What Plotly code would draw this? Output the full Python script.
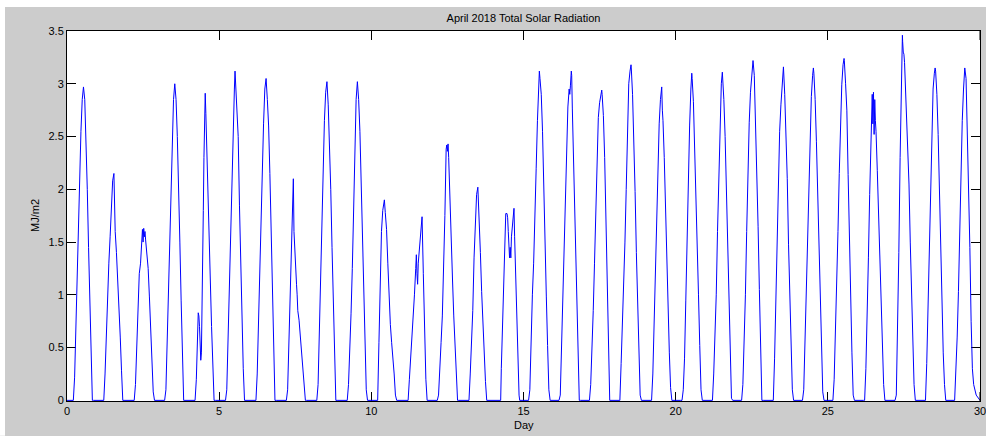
import plotly.graph_objects as go

# ---------------- data ----------------
DAYS = list(range(30))
HOURS = list(range(4, 22))  # hourly samples 4:00 .. 21:00 for every day

# MJ/m2 at each hour of HOURS, one row per day (0..29)
RAD = [
    [0, 0, 0.22, 0.70, 1.20, 1.75, 2.20, 2.55, 2.85, 2.97, 2.85, 2.50, 2.00, 1.45, 0.95, 0.45, 0, 0],
    [0, 0, 0.25, 0.65, 1.05, 1.30, 1.55, 1.90, 2.08, 2.15, 1.60, 1.40, 1.15, 0.93, 0.60, 0.28, 0, 0],
    [0, 0, 0.15, 0.50, 0.83, 1.20, 1.30, 1.55, 1.50, 1.55, 1.52, 1.40, 1.25, 0.98, 0.65, 0.35, 0.08, 0],
    [0, 0, 0.10, 0.60, 1.05, 1.60, 2.05, 2.47, 2.85, 3.00, 2.85, 2.50, 2.10, 1.50, 0.95, 0.40, 0, 0],
    [0, 0, 0.20, 0.60, 0.80, 0.55, 0.45, 1.30, 2.30, 2.91, 2.45, 2.00, 1.60, 1.15, 0.70, 0.25, 0, 0],
    [0, 0, 0.10, 0.60, 1.10, 1.70, 2.20, 2.60, 2.95, 3.00, 2.86, 2.50, 1.85, 1.28, 0.75, 0.30, 0, 0],
    [0, 0, 0.25, 0.75, 1.30, 1.80, 2.25, 2.62, 2.95, 3.05, 2.85, 2.60, 2.15, 1.60, 0.95, 0.50, 0, 0],
    [0, 0, 0.10, 0.55, 1.15, 1.60, 2.00, 1.60, 1.25, 1.10, 0.85, 0.76, 0.60, 0.42, 0.25, 0.08, 0, 0],
    [0, 0, 0.15, 0.62, 1.10, 1.75, 2.30, 2.65, 2.92, 3.02, 2.80, 2.48, 2.00, 1.45, 0.92, 0.45, 0, 0],
    [0, 0, 0.15, 0.45, 0.82, 1.25, 1.78, 2.45, 2.85, 3.02, 2.85, 2.55, 2.05, 1.50, 1.00, 0.50, 0.10, 0],
    [0, 0, 0.55, 1.05, 1.60, 1.80, 1.88, 1.78, 1.62, 1.30, 0.95, 0.72, 0.55, 0.42, 0.25, 0.05, 0, 0],
    [0, 0, 0.20, 0.38, 0.55, 0.75, 1.00, 1.25, 1.20, 1.30, 1.45, 1.60, 1.74, 1.20, 0.60, 0.20, 0, 0],
    [0, 0.05, 0.25, 0.55, 0.80, 1.20, 1.75, 2.38, 2.36, 2.30, 1.85, 1.50, 1.15, 0.80, 0.50, 0.22, 0, 0],
    [0, 0, 0.25, 0.52, 0.85, 1.35, 1.75, 1.95, 2.02, 1.75, 1.40, 1.03, 0.72, 0.42, 0.18, 0, 0, 0],
    [0, 0, 0, 0.50, 0.90, 1.40, 1.77, 1.77, 1.60, 1.35, 1.35, 1.62, 1.70, 1.55, 1.05, 0.60, 0.20, 0],
    [0, 0.10, 0.60, 1.00, 1.30, 1.65, 2.20, 2.65, 3.05, 3.05, 2.90, 2.55, 1.95, 1.42, 0.98, 0.52, 0.10, 0],
    [0, 0.05, 0.50, 1.00, 1.50, 2.00, 2.45, 2.78, 2.95, 2.98, 3.08, 2.50, 1.90, 1.35, 0.88, 0.40, 0, 0],
    [0, 0.15, 0.45, 0.85, 1.30, 1.80, 2.30, 2.68, 2.82, 2.90, 2.90, 2.70, 2.30, 1.75, 1.10, 0.50, 0, 0],
    [0, 0.35, 0.70, 1.00, 1.50, 2.00, 2.55, 3.00, 3.12, 3.15, 2.90, 2.50, 1.98, 1.40, 0.85, 0.35, 0.05, 0],
    [0, 0, 0.25, 0.70, 1.28, 1.78, 2.25, 2.62, 2.85, 2.97, 2.65, 2.30, 1.80, 1.35, 0.85, 0.45, 0.12, 0],
    [0, 0, 0.10, 0.40, 0.95, 1.60, 2.14, 2.60, 2.95, 3.05, 2.83, 2.42, 1.95, 1.48, 1.00, 0.52, 0.10, 0],
    [0, 0, 0.25, 0.55, 1.00, 1.60, 2.15, 2.67, 3.00, 3.08, 2.85, 2.50, 2.00, 1.40, 0.80, 0.25, 0.02, 0],
    [0, 0.15, 0.50, 1.00, 1.60, 2.20, 2.63, 2.92, 3.12, 3.22, 3.08, 2.65, 2.20, 1.65, 1.05, 0.45, 0, 0],
    [0, 0, 0.40, 0.95, 1.45, 2.04, 2.55, 2.80, 2.98, 3.16, 2.90, 2.55, 2.10, 1.48, 0.95, 0.45, 0.10, 0],
    [0, 0.10, 0.55, 1.05, 1.60, 2.15, 2.60, 2.88, 3.08, 3.10, 2.85, 2.45, 1.95, 1.40, 0.85, 0.40, 0.08, 0],
    [0, 0.20, 0.60, 1.03, 1.60, 2.15, 2.62, 2.99, 3.18, 3.22, 3.00, 2.75, 2.14, 1.50, 0.92, 0.45, 0.05, 0],
    [0, 0, 0.30, 0.75, 1.35, 1.95, 2.55, 2.90, 2.92, 2.85, 2.55, 2.18, 1.75, 1.28, 0.88, 0.50, 0.15, 0],
    [0, 0, 0.05, 0.60, 1.40, 2.30, 3.08, 3.40, 3.28, 3.05, 2.75, 2.50, 2.05, 1.50, 0.95, 0.50, 0.15, 0],
    [0, 0, 0.35, 0.85, 1.40, 2.00, 2.55, 2.95, 3.10, 3.12, 2.90, 2.52, 2.00, 1.42, 0.85, 0.45, 0.15, 0],
    [0, 0.25, 0.60, 1.03, 1.65, 2.15, 2.65, 2.95, 3.15, 3.05, 2.60, 2.05, 1.45, 0.75, 0.30, 0.15, 0.10, 0.05],
]

# additional readings between the hourly samples: (day, hour, MJ/m2)
EXTRA = [
    (0, 0.0, 0.0),
    (2, 10.5, 1.40), (2, 11.5, 1.62), (2, 12.5, 1.63), (2, 13.5, 1.60),
    (4, 7.5, 0.83), (4, 8.5, 0.70), (4, 9.5, 0.38), (4, 10.5, 0.80),
    (4, 11.5, 1.80), (4, 12.5, 2.70), (4, 13.5, 2.72),
    (5, 12.5, 3.12), (5, 13.5, 2.85),
    (7, 9.5, 1.90), (7, 10.5, 2.10), (7, 11.5, 1.45), (7, 12.5, 1.15), (7, 13.5, 1.00),
    (10, 10.3, 1.90),
    (11, 11.5, 1.38), (11, 12.5, 1.10),
    (12, 11.5, 2.42), (12, 12.5, 2.43),
    (14, 6.5, 0.30), (14, 9.5, 1.70), (14, 11.5, 1.73), (14, 12.5, 1.48),
    (14, 13.5, 1.45), (14, 14.5, 1.55), (14, 16.5, 1.82), (14, 20.5, 0.05),
    (15, 12.5, 3.12),
    (16, 12.5, 2.90), (16, 13.7, 3.12), (16, 14.5, 2.77),
    (17, 13.7, 2.94),
    (18, 12.8, 3.18),
    (19, 13.5, 2.75),
    (20, 12.7, 3.10),
    (21, 12.8, 3.11),
    (24, 12.6, 3.15),
    (25, 12.8, 3.24),
    (26, 10.5, 2.75), (26, 11.5, 2.62), (26, 12.5, 2.52), (26, 13.5, 2.65),
    (27, 10.8, 3.46), (27, 11.5, 3.30), (27, 12.5, 3.20),
    (28, 12.6, 3.15),
    (29, 24.0, 0.0),
]

X_TICKS = [0, 5, 10, 15, 20, 25, 30]
X_TICK_TEXT = ["0", "5", "10", "15", "20", "25", "30"]
Y_TICKS = [0, 0.5, 1, 1.5, 2, 2.5, 3, 3.5]
Y_TICK_TEXT = ["0", "0.5", "1", "1.5", "2", "2.5", "3", "3.5"]

TITLE = "April 2018 Total Solar Radiation"
X_LABEL = "Day"
Y_LABEL = "MJ/m2"

# ---------------- build series ----------------
xs, ys = [], []
for d in DAYS:
    pts = list(zip(HOURS, RAD[d])) + [(h, v) for (dd, h, v) in EXTRA if dd == d]
    pts.sort(key=lambda p: p[0])
    for h, v in pts:
        xs.append(d + h / 24.0)
        ys.append(v)

FONT = "Liberation Sans, Arial, sans-serif"
W, H = 986, 436
L, R, T, B = 67, 6, 31, 35
pw, ph = W - L - R, H - T - B
Y_MIN = -0.006  # lifts the zero line just onto the bottom frame so it stays visible

fig = go.Figure()
fig.add_trace(go.Scatter(x=xs, y=ys, mode="lines",
                         line=dict(color="#0000ff", width=1),
                         hoverinfo="skip", showlegend=False))

axis_common = dict(showline=True, linecolor="black", linewidth=1, mirror="allticks",
                   ticks="inside", ticklen=9, tickwidth=1, tickcolor="black",
                   showgrid=False, zeroline=False, layer="below traces",
                   tickfont=dict(family=FONT, size=11, color="black"))

fig.update_xaxes(range=[0, 30], tickvals=X_TICKS[:-1], ticktext=X_TICK_TEXT[:-1], **axis_common)
fig.update_yaxes(range=[Y_MIN, 3.5], tickvals=Y_TICKS, ticktext=Y_TICK_TEXT, **axis_common)

# tick mark + label for the last x tick (at the very edge of the figure)
fig.add_shape(type="line", xref="x", yref="paper", x0=X_TICKS[-1], x1=X_TICKS[-1],
              y0=0, y1=9 / ph, line=dict(color="black", width=1))
fig.add_shape(type="line", xref="x", yref="paper", x0=X_TICKS[-1], x1=X_TICKS[-1],
              y0=1 - 9 / ph, y1=1, line=dict(color="black", width=1))
fig.add_annotation(text=X_TICK_TEXT[-1], xref="x", yref="paper", x=X_TICKS[-1], y=-2 / ph,
                   xanchor="center", yanchor="top", showarrow=False,
                   font=dict(family=FONT, size=11, color="black"))

# white page border at top / left of the grey figure
fig.add_shape(type="rect", xref="paper", yref="paper",
              x0=(0 - L) / pw, x1=(5 - L) / pw, y0=(H - T - H) / ph - 0.01, y1=(H - T) / ph + 0.01,
              fillcolor="white", line=dict(width=0), layer="below")
fig.add_shape(type="rect", xref="paper", yref="paper",
              x0=(0 - L) / pw, x1=(W - L) / pw + 0.01, y0=(H - B - 7) / ph, y1=(H - B) / ph + 0.01,
              fillcolor="white", line=dict(width=0), layer="below")

fig.add_annotation(text=X_LABEL, xref="paper", yref="paper", x=0.5, y=(H - B - 425) / ph,
                   xanchor="center", yanchor="middle", showarrow=False,
                   font=dict(family=FONT, size=11, color="black"))
fig.add_annotation(text=Y_LABEL, xref="paper", yref="paper", x=(35 - L) / pw, y=(H - B - 216) / ph,
                   xanchor="center", yanchor="middle", showarrow=False, textangle=-90,
                   font=dict(family=FONT, size=11, color="black"))

fig.update_layout(
    width=W, height=H,
    margin=dict(l=L, r=R, t=T, b=B, pad=0),
    paper_bgcolor="#cccccc", plot_bgcolor="white",
    title=dict(text=TITLE, x=(L + pw / 2) / W, xanchor="center",
               y=1 - 18 / H, yanchor="middle", yref="container",
               font=dict(family=FONT, size=11, color="black")),
)

fig.write_html("out.html")
